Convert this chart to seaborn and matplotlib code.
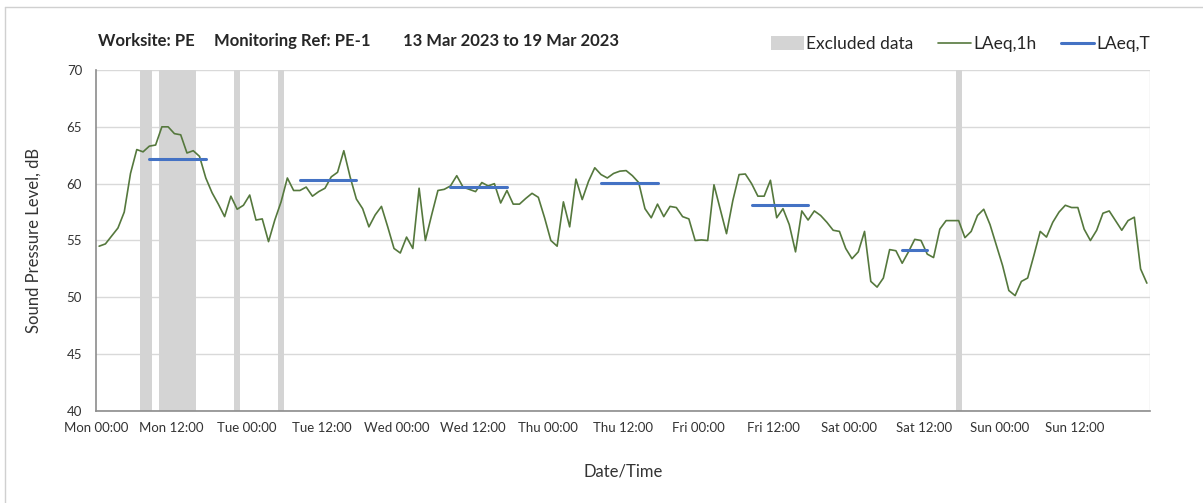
import numpy as np
import pandas as pd
import matplotlib
matplotlib.use("Agg")
import matplotlib.pyplot as plt
from matplotlib.lines import Line2D
from matplotlib.patches import Patch
import seaborn as sns

# ---------------------------------------------- DATA ----------------------------------------------
# hourly LAeq,1h values, Mon 00:00 -> Sun 23:00 (168 hours)
laeq_1h = [
    54.5, 54.7, 55.4, 56.1, 57.5, 60.9, 63.0, 62.8, 63.3, 63.4, 65.0, 65.0,
    64.4, 64.3, 62.7, 62.9, 62.4, 60.5, 59.2, 58.2, 57.1, 58.9, 57.75, 58.1,
    59.0, 56.8, 56.9, 54.9, 56.8, 58.4, 60.5, 59.4, 59.4, 59.7, 58.9, 59.3,
    59.6, 60.6, 61.0, 62.9, 60.6, 58.65, 57.8, 56.2, 57.25, 58.0, 56.2, 54.3,
    53.9, 55.3, 54.3, 59.6, 55.0, 57.25, 59.4, 59.5, 59.8, 60.7, 59.7, 59.5,
    59.3, 60.1, 59.8, 60.0, 58.3, 59.4, 58.2, 58.2, 58.7, 59.15, 58.8, 57.0,
    55.0, 54.5, 58.4, 56.2, 60.4, 58.6, 60.2, 61.4, 60.8, 60.5, 60.9, 61.1,
    61.15, 60.7, 60.1, 57.8, 57.0, 58.2, 57.1, 58.0, 57.9, 57.1, 56.9, 55.0,
    55.05, 55.0, 59.9, 57.75, 55.6, 58.5, 60.8, 60.85, 60.0, 58.9, 58.9, 60.3,
    57.0, 57.8, 56.4, 54.0, 57.6, 56.8, 57.6, 57.2, 56.6, 55.9, 55.8, 54.3,
    53.4, 54.0, 55.8, 51.4, 50.9, 51.7, 54.2, 54.1, 53.0, 54.0, 55.1, 55.0,
    53.8, 53.5, 56.0, 56.75, 56.75, 56.75, 55.25, 55.8, 57.2, 57.75, 56.4, 54.6,
    52.8, 50.6, 50.15, 51.4, 51.7, 53.7, 55.8, 55.3, 56.6, 57.5, 58.1, 57.9,
    57.9, 56.0, 55.0, 55.9, 57.4, 57.6, 56.75, 55.9, 56.75, 57.05, 52.5, 51.25,
]

# LAeq,T over the daytime period (first hour, last hour, level)
laeq_t_start = [8, 32, 56, 80, 104, 128]
laeq_t_end = [17, 41, 65, 89, 113, 132]
laeq_t_value = [62.2, 60.3, 59.7, 60.1, 58.1, 54.2]

# excluded periods (start hour, end hour)
excl_start = [7, 10, 22, 29, 137]
excl_end = [9, 16, 23, 30, 138]

tick_labels = [f"{d} {t}" for d in ["Mon", "Tue", "Wed", "Thu", "Fri", "Sat", "Sun"]
               for t in ["00:00", "12:00"]]

# ---------------------------------------------- PLOT ----------------------------------------------
sns.set_theme(style="white")
plt.rcParams["font.family"] = ["Lato", "DejaVu Sans"]

GREEN = "#55783d"
BLUE = "#4472c4"
GREY = "#d4d4d4"

hourly = pd.DataFrame({"hour": np.arange(len(laeq_1h)) + 0.5, "level": laeq_1h})

rows = []
for k, (s, e, v) in enumerate(zip(laeq_t_start, laeq_t_end, laeq_t_value)):
    rows.append((k, s + 0.5, v))
    rows.append((k, e + 0.5, v))
period = pd.DataFrame(rows, columns=["seg", "hour", "level"])

fig = plt.figure(figsize=(12.03, 5.03), dpi=100)
ax = fig.add_axes([96 / 1203, 1 - 411 / 503, (1150 - 96) / 1203, (411 - 70) / 503])

for s, e in zip(excl_start, excl_end):
    ax.axvspan(s, e, color=GREY, lw=0, zorder=1)

sns.lineplot(data=hourly, x="hour", y="level", color=GREEN, lw=1.2, ax=ax, zorder=3)
sns.lineplot(data=period, x="hour", y="level", units="seg", estimator=None,
             color=BLUE, lw=2.2, ax=ax, zorder=4)

ax.set_xlim(0, 168)
ax.set_ylim(40, 70)
ax.set_xticks(np.arange(0, 168, 12))
ax.set_xticklabels(tick_labels, fontsize=9.5, color="#333333")
ax.set_xticks(np.arange(24, 169, 24), minor=True)
ax.set_yticks(np.arange(40, 71, 5))
ax.set_yticklabels([str(v) for v in range(40, 71, 5)], fontsize=9.5, color="#333333")
ax.tick_params(axis="x", which="major", direction="out", length=4, color="#888888", pad=4)
ax.tick_params(axis="x", which="minor", length=0)
ax.tick_params(axis="y", direction="out", length=4, color="#888888", pad=6)
ax.grid(False)
ax.grid(True, axis="y", color="#d9d9d9", lw=1)
ax.grid(True, axis="x", which="minor", color="#d9d9d9", lw=1)
for side in ["top", "right"]:
    ax.spines[side].set_visible(False)
for side in ["left", "bottom"]:
    ax.spines[side].set_color("#8c8c8c")
    ax.spines[side].set_linewidth(1.2)

ax.set_xlabel("Date/Time", fontsize=12, color="#333333", labelpad=21)
ax.set_ylabel("Sound Pressure Level, dB", fontsize=12, color="#333333", labelpad=18)

# header
fig.text(98 / 1203, 1 - 41 / 503, "Worksite: PE", fontsize=12, fontweight="bold", va="center")
fig.text(214 / 1203, 1 - 41 / 503, "Monitoring Ref: PE-1", fontsize=12, fontweight="bold", va="center")
fig.text(403 / 1203, 1 - 41 / 503, "13 Mar 2023 to 19 Mar 2023", fontsize=12, fontweight="bold", va="center")

handles = [Patch(facecolor=GREY, edgecolor="none"),
           Line2D([], [], color=GREEN, lw=1.2),
           Line2D([], [], color=BLUE, lw=2.2)]
fig.legend(handles, ["Excluded data", "LAeq,1h", "LAeq,T"], ncol=3, frameon=False,
           loc="center right", bbox_to_anchor=(1166 / 1203, 1 - 44 / 503),
           fontsize=12.5, handlelength=1.9, handletextpad=0.15, columnspacing=1.4,
           handleheight=0.8)

# outer border of the chart object
fig.add_artist(Line2D([5 / 1203, 5 / 1203], [0, 1 - 7 / 503], color="#d0d0d0", lw=1,
                      transform=fig.transFigure))
fig.add_artist(Line2D([5 / 1203, 1], [1 - 7 / 503, 1 - 7 / 503], color="#d0d0d0", lw=1,
                      transform=fig.transFigure))

fig.savefig("out.png", dpi=100, facecolor="white")
